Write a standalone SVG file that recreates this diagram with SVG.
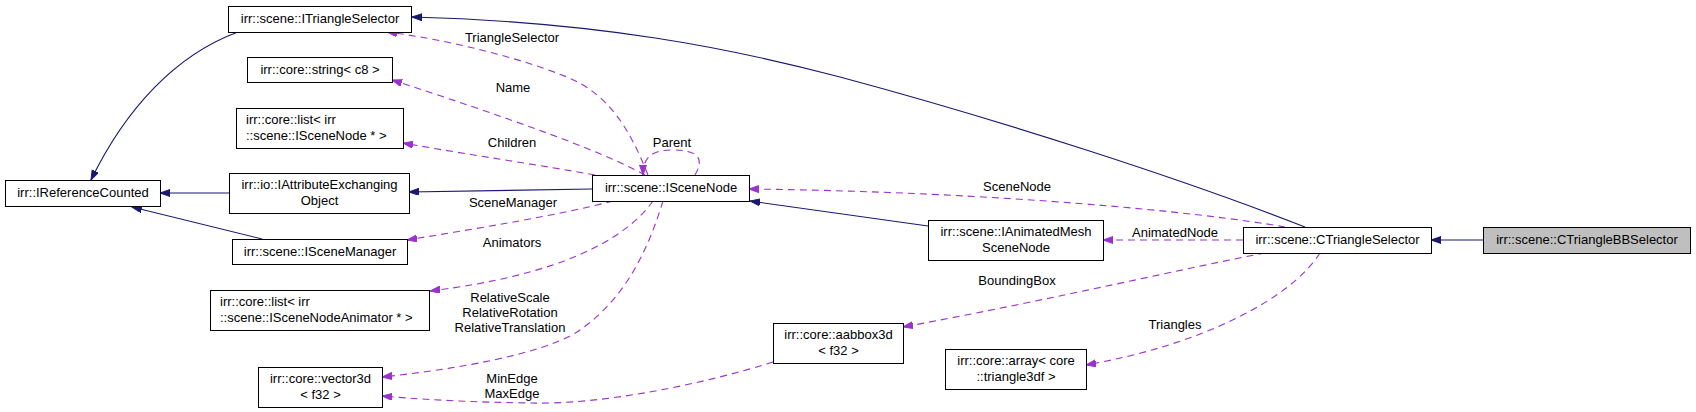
<svg xmlns="http://www.w3.org/2000/svg" width="1696" height="412" viewBox="0 0 1696 412">
<style>
text{font-family:"Liberation Sans",Arial,sans-serif;font-size:13px;fill:#000}
.c{text-anchor:middle}
.n rect{fill:#fff;stroke:#000;stroke-width:1}
.n rect.hl{fill:#bfbfbf}
.inh{fill:none;stroke:#191970;stroke-width:1.1;marker-end:url(#ab)}
.use{fill:none;stroke:#9a32cd;stroke-width:1.1;stroke-dasharray:7,5;marker-end:url(#ap)}
</style>
<defs>
<marker id="ab" markerWidth="11" markerHeight="8" refX="10" refY="3.5" orient="auto" markerUnits="userSpaceOnUse"><path d="M0,0 L10,3.5 L0,7 z" fill="#191970" stroke="#191970"/></marker>
<marker id="ap" markerWidth="11" markerHeight="8" refX="10" refY="3.5" orient="auto" markerUnits="userSpaceOnUse"><path d="M0,0 L10,3.5 L0,7 z" fill="#9a32cd" stroke="#9a32cd"/></marker>
</defs>
<rect width="1696" height="412" fill="#fff"/>
<g id="edges">
<path class="inh" d="M238,32 C175,55 125,110 91,180"/>
<path class="inh" d="M229,193 L160,193"/>
<path class="inh" d="M262,239 L132,207"/>
<path class="inh" d="M1305,227 C1180,178 1000,120 840,77 C730,48 600,22 412,17"/>
<path class="inh" d="M592,189 L409,192"/>
<path class="inh" d="M928,226 L750,201"/>
<path class="inh" d="M1483,240 L1431,240"/>
<path class="use" d="M648,175 C630,130 610,95 567,77 C520,58 450,40 387,32"/>
<path class="use" d="M645,175 C600,150 500,115 392,80"/>
<path class="use" d="M595,175 C540,165 470,155 403,143"/>
<path class="use" d="M695,175 C705,158 698,150 672,150 C652,150 643,157 643,175"/>
<path class="use" d="M613,201 C560,215 480,228 407,240"/>
<path class="use" d="M653,201 C625,240 560,275 430,291"/>
<path class="use" d="M663,201 C648,250 625,300 577,332 C540,355 450,370 382,377"/>
<path class="use" d="M773,362 C700,385 600,405 530,403 C470,402 430,400 382,396"/>
<path class="use" d="M1285,227 C1200,212 1000,192 749,189"/>
<path class="use" d="M1243,240 L1103,240"/>
<path class="use" d="M1265,253 C1200,265 1050,300 903,327"/>
<path class="use" d="M1320,253 C1290,300 1200,345 1086,365"/>
<text class="c" x="512" y="41.5">TriangleSelector</text>
<text class="c" x="513" y="91.5">Name</text>
<text class="c" x="512" y="146.5">Children</text>
<text class="c" x="672" y="146.5">Parent</text>
<text class="c" x="513" y="206.5">SceneManager</text>
<text class="c" x="512" y="246.5">Animators</text>
<text class="c" x="510" y="301.5">RelativeScale</text>
<text class="c" x="510" y="316.5">RelativeRotation</text>
<text class="c" x="510" y="331.5">RelativeTranslation</text>
<text class="c" x="512" y="382.5">MinEdge</text>
<text class="c" x="512" y="397.5">MaxEdge</text>
<text class="c" x="1017" y="190.5">SceneNode</text>
<text class="c" x="1175" y="236.5">AnimatedNode</text>
<text class="c" x="1017" y="284.5">BoundingBox</text>
<text class="c" x="1175" y="328.5">Triangles</text>
</g>
<g id="IReferenceCounted" class="n"><rect x="5.5" y="180.5" width="155" height="26"/><text class="c" x="83" y="197">irr::IReferenceCounted</text></g>
<g id="ITriangleSelector" class="n"><rect x="228.5" y="6.5" width="183" height="26"/><text class="c" x="320" y="23">irr::scene::ITriangleSelector</text></g>
<g id="string_c8" class="n"><rect x="247.5" y="57.5" width="145" height="25"/><text class="c" x="320" y="74">irr::core::string&lt; c8 &gt;</text></g>
<g id="list_ISceneNode" class="n"><rect x="236.5" y="108.5" width="167" height="40"/><text x="246" y="124">irr::core::list&lt; irr</text><text x="246" y="139.5">::scene::ISceneNode * &gt;</text></g>
<g id="IAttributeExchangingObject" class="n"><rect x="229.5" y="173.5" width="180" height="40"/><text class="c" x="319.5" y="189">irr::io::IAttributeExchanging</text><text class="c" x="319.5" y="204.5">Object</text></g>
<g id="ISceneManager" class="n"><rect x="232.5" y="239.5" width="175" height="25"/><text class="c" x="320" y="256">irr::scene::ISceneManager</text></g>
<g id="list_ISceneNodeAnimator" class="n"><rect x="210.5" y="290.5" width="219" height="40"/><text x="220" y="306">irr::core::list&lt; irr</text><text x="220" y="321.5">::scene::ISceneNodeAnimator * &gt;</text></g>
<g id="vector3d_f32" class="n"><rect x="258.5" y="367.5" width="124" height="40"/><text class="c" x="320.5" y="383">irr::core::vector3d</text><text class="c" x="320.5" y="398.5">&lt; f32 &gt;</text></g>
<g id="ISceneNode" class="n"><rect x="592.5" y="175.5" width="157" height="26"/><text class="c" x="671" y="192">irr::scene::ISceneNode</text></g>
<g id="IAnimatedMeshSceneNode" class="n"><rect x="928.5" y="220.5" width="175" height="40"/><text class="c" x="1016" y="236">irr::scene::IAnimatedMesh</text><text class="c" x="1016" y="251.5">SceneNode</text></g>
<g id="aabbox3d_f32" class="n"><rect x="773.5" y="323.5" width="130" height="40"/><text class="c" x="838.5" y="339">irr::core::aabbox3d</text><text class="c" x="838.5" y="354.5">&lt; f32 &gt;</text></g>
<g id="array_triangle3df" class="n"><rect x="945.5" y="349.5" width="141" height="40"/><text class="c" x="1016" y="365">irr::core::array&lt; core</text><text class="c" x="1016" y="380.5">::triangle3df &gt;</text></g>
<g id="CTriangleSelector" class="n"><rect x="1243.5" y="227.5" width="188" height="26"/><text class="c" x="1337.5" y="244">irr::scene::CTriangleSelector</text></g>
<g id="CTriangleBBSelector" class="n"><rect class="hl" x="1483.5" y="227.5" width="207" height="26"/><text class="c" x="1587" y="244">irr::scene::CTriangleBBSelector</text></g>
</svg>
